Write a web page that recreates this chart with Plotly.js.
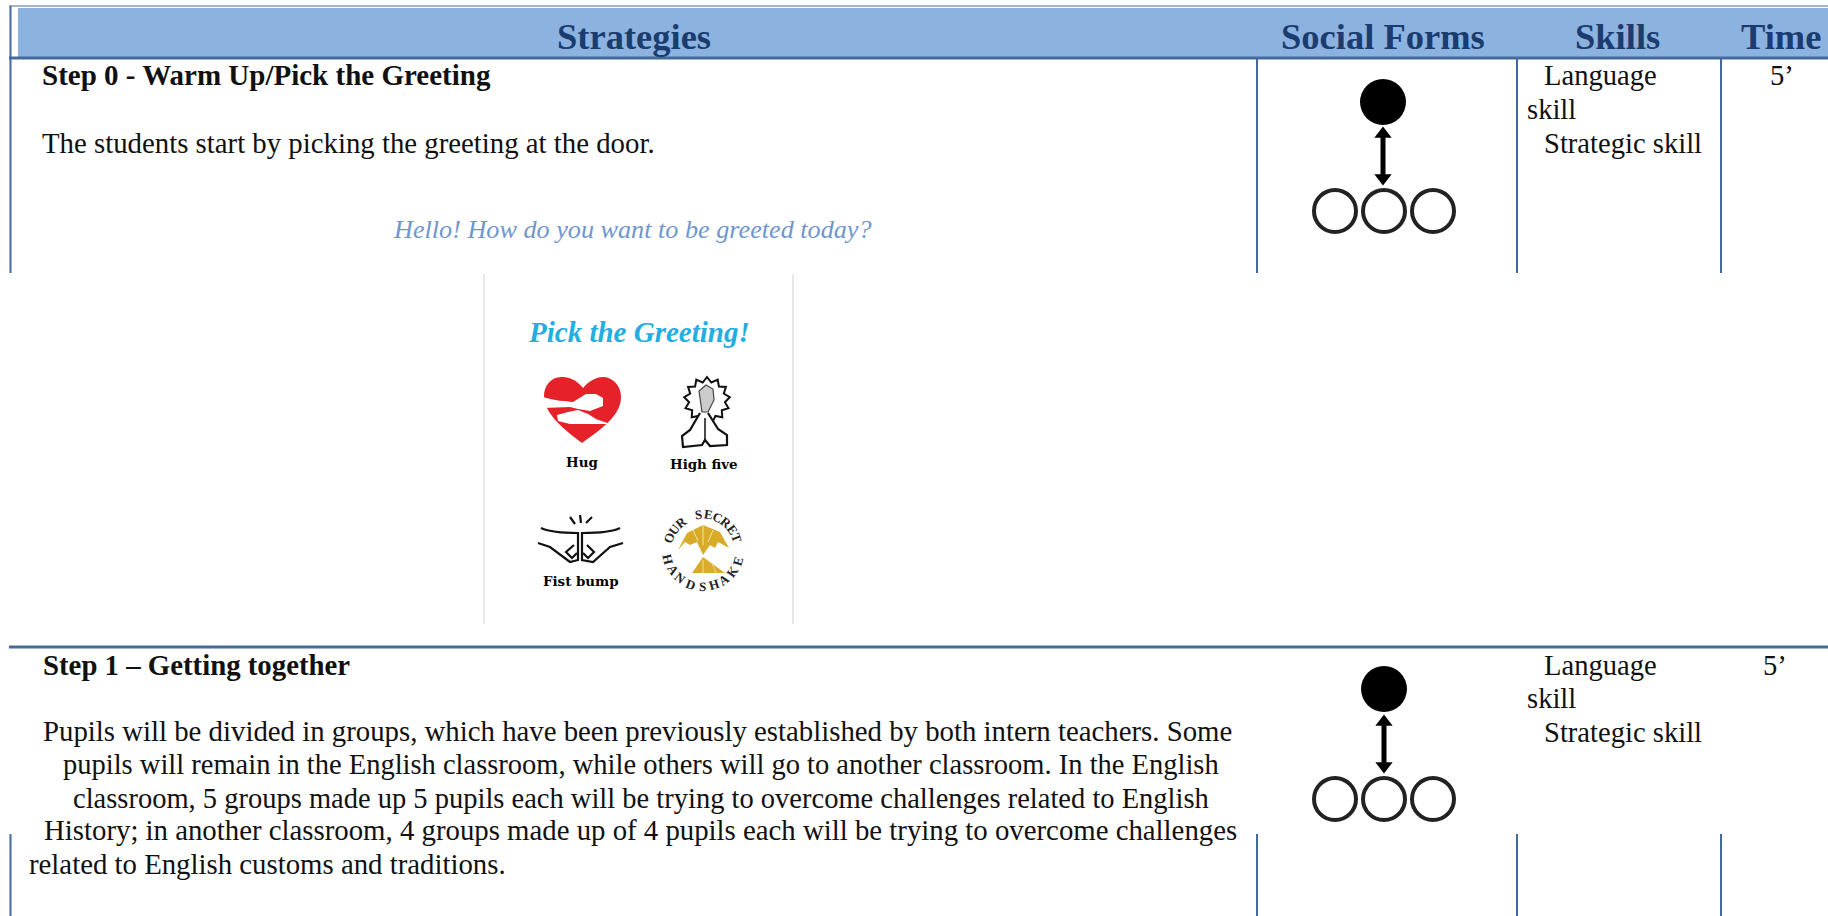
<!DOCTYPE html>
<html>
<head>
<meta charset="utf-8">
<script src="https://cdn.plot.ly/plotly-3.0.1.min.js"></script>
<style>html,body{margin:0;padding:0;background:#fff;overflow:hidden}#chart{width:1828px;height:916px}</style>
</head>
<body>
<div id="chart"></div>
<script>
// ---- content ----
const headerLabels = ["Strategies", "Social Forms", "Skills", "Time"];
const step0Title = "Step 0 - Warm Up/Pick the Greeting";
const step0Body = "The students start by picking the greeting at the door.";
const step0Prompt = "Hello! How do you want to be greeted today?";
const step1Title = "Step 1 – Getting together";
const step1Lines = [
  "Pupils will be divided in groups, which have been previously established by both intern teachers. Some",
  "pupils will remain in the English classroom, while others will go to another classroom. In the English",
  "classroom, 5 groups made up 5 pupils each will be trying to overcome challenges related to English",
  "History; in another classroom, 4 groups made up of 4 pupils each will be trying to overcome challenges",
  "related to English customs and traditions."
];
const skillLines = ["Language", "skill", "Strategic skill"];
const timeLabel = "5’";
const greetingTitle = "Pick the Greeting!";
const greetingLabels = ["Hug", "High five", "Fist bump"];
const secretTop = "OUR SECRET";
const secretBottom = "HANDSHAKE";

// ---- page geometry (separate from the content above) ----
const headerCenters = [634, 1383, 1617, 1781];
const step1LineX = [42, 62, 72, 43, 28];
const step1LineY = [731, 764, 798, 830, 864];
const step1LineSize = [28.8, 28.5, 28.5, 28.8, 28.8];
const ruleColumnsX = [1257, 1517, 1721];
const glyphTeacherY = [102, 689];
const glyphArrowTop = [128, 716];
const glyphArrowBottom = [184, 772];
const glyphPupilsY = [211, 799];
const glyphPupilsX = [1335, 1384, 1433];

const SERIF = '"Liberation Serif", serif';
const RULE = '#44699b';

const ann = [];
function txt(text, x, y, size, opts) {
  opts = opts || {};
  ann.push({text, x, y, xref:'x', yref:'y', showarrow:false,
    xanchor: opts.anchor || 'left', yanchor:'middle', align:'left', borderpad:0,
    textangle: opts.angle || 0,
    font:{family: opts.family || SERIF, size, color: opts.color || '#111'}});
}

headerLabels.forEach((h,i)=>txt('<b>'+h+'</b>', headerCenters[i], 36, 36.5, {anchor:'center', color:'#1b3c6e'}));
txt('<b>'+step0Title+'</b>', 41, 75, 29);
txt(step0Body, 41, 143, 28.8);
txt('<i>'+step0Prompt+'</i>', 632, 229, 26.2, {anchor:'center', color:'#6f96cf'});
txt('<b>'+step1Title+'</b>', 42, 665, 28.8);
step1Lines.forEach((l,i)=>txt(l, step1LineX[i], step1LineY[i], step1LineSize[i]));

[[75,109,143,1769],[665,698,732,1762]].forEach(r=>{
  txt(skillLines[0], 1543, r[0], 28.6);
  txt(skillLines[1], 1526, r[1], 28.6);
  txt(skillLines[2], 1543, r[2], 28.6);
  txt(timeLabel, r[3], r[0], 28.6);
});

// greeting card
const LABEL_FONT = '"DejaVu Serif", serif';
txt('<b><i>'+greetingTitle+'</i></b>', 639, 332, 29, {anchor:'center', color:'#23aee0'});
txt('<b>'+greetingLabels[0]+'</b>', 582, 462, 13.4, {anchor:'center', family:LABEL_FONT, color:'#000'});
txt('<b>'+greetingLabels[1]+'</b>', 704, 464, 13.4, {anchor:'center', family:LABEL_FONT, color:'#000'});
txt('<b>'+greetingLabels[2]+'</b>', 581, 581, 13.4, {anchor:'center', family:LABEL_FONT, color:'#000'});

// circular handshake badge text
const cx = 703, cy = 550.5, rt = 36;
function arcText(s, startDeg, endDeg, bottom) {
  const chars = s.split('');
  chars.forEach((c,i)=>{
    const d = startDeg + (endDeg-startDeg)*i/(chars.length-1);
    const a = d*Math.PI/180;
    const x = cx + rt*Math.sin(a), y = cy - rt*Math.cos(a);
    txt('<b>'+c+'</b>', x, y, 13, {anchor:'center', family:SERIF, angle: bottom ? d-180 : d, color:'#222'});
  });
}
arcText(secretTop, -69, 70, false);
arcText(secretBottom, 256, 107, true);

const shapes = [];
const L = (x0,y0,x1,y1,color,width)=>shapes.push({type:'line',xref:'x',yref:'y',x0,y0,x1,y1,line:{color,width},layer:'above'});
const P = (path,fill,color,width)=>shapes.push({type:'path',xref:'x',yref:'y',path,fillcolor:fill||'rgba(0,0,0,0)',line:{color:color||'rgba(0,0,0,0)',width:width||0},layer:'above'});

// header band
shapes.push({type:'rect',xref:'x',yref:'y',x0:18,x1:1828,y0:8,y1:58,fillcolor:'#8cb2e0',line:{width:0},layer:'below'});
L(9,6,1828,6,'#a3b5cf',2);
L(9,58,1828,58,RULE,3);
L(10.5,6,10.5,273,RULE,2);
L(10.5,834,10.5,916,RULE,2);
L(9,647,1828,647,RULE,3);
ruleColumnsX.forEach(x=>{
  L(x,58,x,273,RULE,2);
  L(x,834,x,916,RULE,2);
});
L(484,274,484,624,'#e8e8e8',2);
L(793,274,793,624,'#e8e8e8',2);

// heart with arms
P('M583,388 C576,379 568,377 561,377 C551,377 544,386 544,396 C544,414 565,430 582,443 C600,430 621,416 621,397 C621,385 612,377 603,377 C596,377 589,381 583,388 Z','#e5222a');
P('M543,397 C555,401 565,401 573,402 L586,394 L596,394 L603,398 L603,406 L590,411 L578,409 L570,407 L543,408 Z','#ffffff');
P('M610,424 L586,424 L570,424 L558,421 L557,415 L568,412 L578,410 L588,414 L596,419 Z','#ffffff');

// high five icon
let star = '';
const n = 13;
for (let i=0;i<2*n;i++){
  const r = i%2 ? 18 : 23, a = i*Math.PI/n;
  star += (i?'L':'M')+(707+r*Math.sin(a)).toFixed(1)+','+(400-r*Math.cos(a)).toFixed(1)+' ';
}
P(star+'Z','#ffffff','#111',2);
P('M700,413 L690,430 L682,436 L683,447 L702,445 L705,440 L710,446 L727,445 L727,435 L718,429 L708,413','#ffffff','#111',2.2);
P('M705,440 L705,418','rgba(0,0,0,0)','#111',1.5);
P('M699,391 L706,385 L713,389 L714,400 L708,412 L702,412 Z','#cccccc','#444',1.2);

// fist bump icon
P('M541,528 C552,533 568,533 578,533 L578,560 L570,562 L550,547 L538,543','rgba(0,0,0,0)','#111',2.2);
P('M620,528 C610,533 594,533 582,533 L582,560 L593,562 L610,547 L623,543','rgba(0,0,0,0)','#111',2.2);
P('M574,545 L566,552 L572,558 L577,553','rgba(0,0,0,0)','#111',2.2);
P('M587,545 L594,552 L588,558 L583,553','rgba(0,0,0,0)','#111',2.2);
L(570,517,575,524,'#111',2.2);
L(580,515,581,523,'#111',2.2);
L(592,517,586,523,'#111',2.2);

// handshake badge art
P('M678,550 L687,533 L703,525 L720,532 L729,548 L718,542 L715,548 L710,545 L703,555 L697,542 L690,545 L685,542 Z','#d8ac28');
P('M692,573 L703,557 L725,573 Z','#d8ac28');
L(703,525,703,545,'#f4e4a8',1);
L(693,530,698,541,'#f4e4a8',1);
L(713,530,708,542,'#f4e4a8',1);
L(703,560,703,573,'#f0dc98',1);
L(712,563,716,573,'#f0dc98',1);

// markers drawn as traces
const teacherTrace = {type:'scatter',mode:'markers',x:glyphTeacherY.map((_,i)=>1383+i),y:glyphTeacherY,
  marker:{size:46,color:'#000',line:{width:0}},hoverinfo:'skip'};
const pupilX = [], pupilY = [];
glyphPupilsY.forEach(y=>glyphPupilsX.forEach(x=>{pupilX.push(x);pupilY.push(y);}));
const pupilTrace = {type:'scatter',mode:'markers',x:pupilX,y:pupilY,
  marker:{size:42,color:'#fff',line:{width:4,color:'#222'}},hoverinfo:'skip'};
const arrowTraces = glyphArrowTop.map((t,i)=>({type:'scatter',mode:'lines+markers',
  x:[1383+i,1383+i],y:[t+6,glyphArrowBottom[i]-6],
  line:{color:'#000',width:5},
  marker:{symbol:['triangle-up','triangle-down'],size:15,color:'#000'},hoverinfo:'skip'}));

const layout = {
  width:1828,height:916,autosize:false,
  margin:{l:0,r:0,t:0,b:0,pad:0},
  paper_bgcolor:'#fff',plot_bgcolor:'#fff',showlegend:false,
  xaxis:{range:[0,1828],visible:false,fixedrange:true},
  yaxis:{range:[916,0],visible:false,fixedrange:true},
  shapes,annotations:ann
};
Plotly.newPlot('chart',[...arrowTraces,pupilTrace,teacherTrace],layout,{displayModeBar:false,staticPlot:true});
</script>
</body>
</html>
